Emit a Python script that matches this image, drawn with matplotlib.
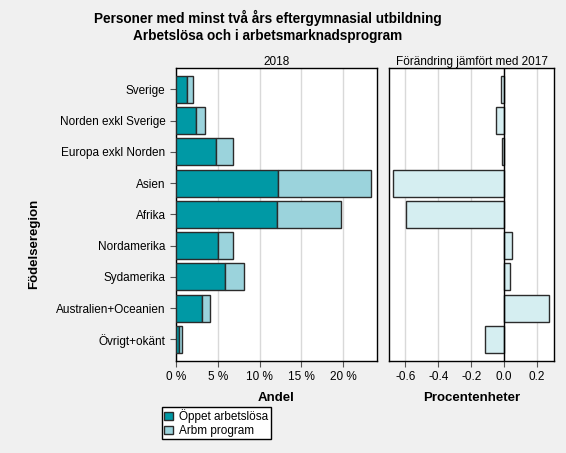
import numpy as np
import matplotlib
matplotlib.use("Agg")
import matplotlib.pyplot as plt
from matplotlib.patches import Patch

plt.rcParams['font.family'] = ['Liberation Sans', 'DejaVu Sans']

# Data
regions = ['Sverige', 'Norden exkl Sverige', 'Europa exkl Norden', 'Asien', 'Afrika',
           'Nordamerika', 'Sydamerika', 'Australien+Oceanien', 'Övrigt+okänt']
oppet = [1.32, 2.40, 4.80, 12.16, 12.08, 5.04, 5.92, 3.12, 0.36]
total = [2.04, 3.52, 6.84, 23.36, 19.72, 6.84, 8.12, 4.08, 0.68]
program = [t - o for t, o in zip(total, oppet)]
change = [-0.018, -0.047, -0.012, -0.676, -0.595, 0.045, 0.037, 0.274, -0.116]

xticks_left = [0, 5, 10, 15, 20]
xticklabels_left = ['0 %', '5 %', '10 %', '15 %', '20 %']
xticks_right = [-0.6, -0.4, -0.2, 0.0, 0.2]

dark = '#0099a5'
light = '#9bd3dc'
lighter = '#d5eef1'
edge = '#2b2b2b'
bg = '#f0f0f0'

fig = plt.figure(figsize=(5.66, 4.53), dpi=100, facecolor=bg)
W, H = 566, 453
ax1 = fig.add_axes([176 / W, 1 - 361 / H, (377 - 176) / W, (361 - 68) / H])
ax2 = fig.add_axes([389 / W, 1 - 361 / H, (554 - 389) / W, (361 - 68) / H])

y = np.arange(len(regions))
h = 0.86

ax1.barh(y, oppet, height=h, color=dark, edgecolor=edge, linewidth=1, zorder=3)
ax1.barh(y, program, left=oppet, height=h, color=light, edgecolor=edge, linewidth=1, zorder=3)
ax1.set_xlim(0, 24.05)
ax1.set_xticks(xticks_left)
ax1.set_xticklabels(xticklabels_left)
ax1.set_yticks(y)
ax1.set_yticklabels(regions)
ax1.set_title('2018', fontsize=8.5, pad=2)
ax1.set_xlabel('Andel', fontsize=9.5, fontweight='bold', labelpad=6)
ax1.set_ylabel('Födelseregion', fontsize=9.5, fontweight='bold')
ax1.yaxis.set_label_coords((40 - 176) / 201, (361 - 244) / 293)

ax2.barh(y, change, height=h, color=lighter, edgecolor=edge, linewidth=1, zorder=3)
ax2.axvline(0, color='black', linewidth=1, zorder=4)
ax2.set_xlim(-0.70, 0.3025)
ax2.set_xticks(xticks_right)
ax2.set_xticklabels(['-0.6', '-0.4', '-0.2', '0.0', '0.2'])
ax2.set_yticks([])
ax2.set_title('Förändring jämfört med 2017', fontsize=8.5, pad=2)
ax2.set_xlabel('Procentenheter', fontsize=9.5, fontweight='bold', labelpad=6)

for ax in (ax1, ax2):
    ax.set_ylim(8.69, -0.68)
    ax.set_facecolor('white')
    ax.grid(axis='x', color='#d9d9d9', linewidth=1, zorder=0)
    ax.tick_params(labelsize=8.5, length=4, color='#555555', direction='out')
    for s in ax.spines.values():
        s.set_color('black')
        s.set_linewidth(1)

fig.text(268 / W, 1 - 10 / H, 'Personer med minst två års eftergymnasial utbildning\nArbetslösa och i arbetsmarknadsprogram',
         ha='center', va='top', fontsize=9.8, fontweight='bold', linespacing=1.3)

handles = [Patch(facecolor=dark, edgecolor=edge), Patch(facecolor=light, edgecolor=edge)]
fig.legend(handles, ['Öppet arbetslösa', 'Arbm program'], loc='upper left',
           bbox_to_anchor=(162 / W, 1 - 407 / H), fontsize=8.5, frameon=True,
           fancybox=False, edgecolor='black', framealpha=1, handlelength=0.75,
           handleheight=0.75, handletextpad=0.5, borderpad=0.2, labelspacing=0.15,
           borderaxespad=0)

fig.savefig('out.png', dpi=100, facecolor=bg)
